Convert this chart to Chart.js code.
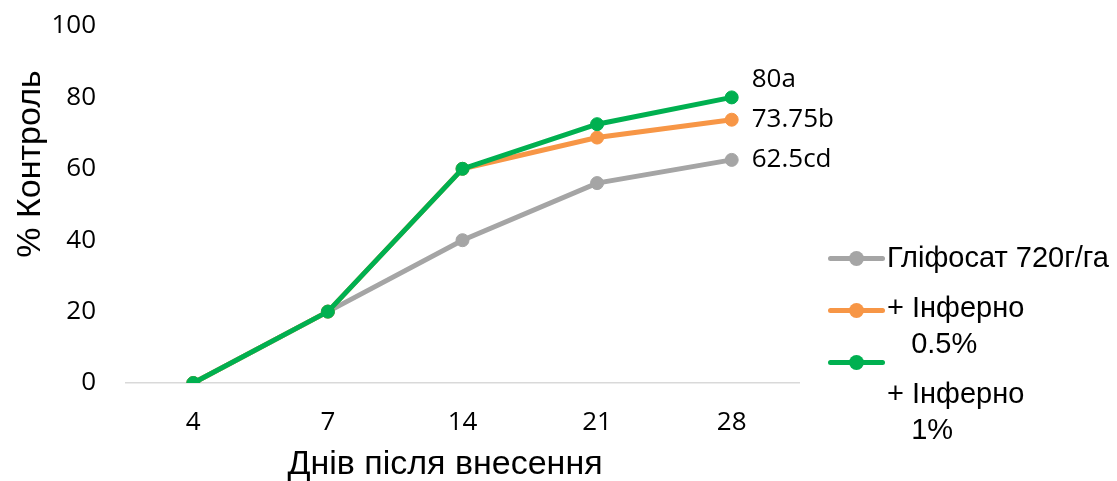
<!DOCTYPE html>
<html lang="uk">
<head>
    <meta charset="UTF-8">
    <title>% Контроль</title>
    <script src="https://cdn.jsdelivr.net/npm/chart.js"></script>
    <style>
        body { margin: 0; background: #fff; }
        .wrap { position: relative; width: 1117px; height: 481px; }
        .legend { position: absolute; left: 828px; top: 0; font-family: 'Liberation Sans', Arial, sans-serif; font-size: 29px; color: #000; }
        .item { position: absolute; left: 0; white-space: nowrap; }
        .swatch { position: absolute; left: 0; top: -2px; width: 57px; height: 5px; border-radius: 3px; }
        .swatch i { position: absolute; left: 21px; top: -5px; width: 15px; height: 15px; border-radius: 50%; }
        .txt { position: absolute; left: 59px; line-height: 36px; }
    </style>
</head>
<body>
<div class="wrap">
    <canvas id="c" width="1117" height="481"></canvas>
    <div class="legend">
        <div class="item" style="top:258px"><div class="swatch" style="background:#a5a5a5"><i style="background:#a5a5a5"></i></div><div class="txt" style="top:-19px">Гліфосат 720г/га</div></div>
        <div class="item" style="top:310px"><div class="swatch" style="background:#f79646"><i style="background:#f79646"></i></div><div class="txt" style="top:-21px">+ Інферно<br>&nbsp;&nbsp;&nbsp;0.5%</div></div>
        <div class="item" style="top:362px"><div class="swatch" style="background:#00b050"><i style="background:#00b050"></i></div><div class="txt" style="top:13px">+ Інферно<br>&nbsp;&nbsp;&nbsp;1%</div></div>
    </div>
</div>
<script>
const days = ['4', '7', '14', '21', '28'];
const glyphosate = [0, 20, 40, 56, 62.5];
const inferno05 = [0, 20, 60, 68.75, 73.75];
const inferno1 = [0, 20, 60, 72.5, 80];
const endLabels = ['62.5cd', '73.75b', '80a'];
const tickFont = '"Open Sans", Lato, sans-serif';
const titleFont = '34px "Liberation Sans", Arial, sans-serif';

// labels next to the last point of each line + axis titles drawn by hand
const extrasPlugin = {
    id: 'extras',
    afterDatasetsDraw(chart) {
        const ctx = chart.ctx;
        ctx.save();
        ctx.font = '26px ' + tickFont;
        ctx.fillStyle = '#000';
        ctx.textBaseline = 'middle';
        const offs = [0, 0, -18];
        chart.data.datasets.forEach((ds, i) => {
            const pts = chart.getDatasetMeta(i).data;
            const p = pts[pts.length - 1];
            ctx.fillText(endLabels[i], p.x + 20, p.y + offs[i]);
        });
        ctx.font = titleFont;
        ctx.textAlign = 'center';
        ctx.fillText('Днів після внесення', 445, 465);
        ctx.translate(31, 164);
        ctx.rotate(-Math.PI / 2);
        ctx.fillText('% Контроль', 0, 0);
        ctx.restore();
    }
};

new Chart(document.getElementById('c'), {
    type: 'line',
    data: {
        labels: days,
        datasets: [
            { label: 'Гліфосат 720г/га', data: glyphosate, borderColor: '#a5a5a5', backgroundColor: '#a5a5a5', order: 3 },
            { label: '+ Інферно 0.5%', data: inferno05, borderColor: '#f79646', backgroundColor: '#f79646', order: 2 },
            { label: '+ Інферно 1%', data: inferno1, borderColor: '#00b050', backgroundColor: '#00b050', order: 1 }
        ]
    },
    options: {
        responsive: false,
        animation: false,
        layout: { padding: { top: 26, right: 318, bottom: 0, left: 0 } },
        elements: {
            line: { borderWidth: 5, tension: 0 },
            point: { radius: 6.5, hoverRadius: 6.5 }
        },
        plugins: { legend: { display: false }, tooltip: { enabled: false } },
        scales: {
            x: {
                offset: true,
                afterFit: s => { s.height = 98; s.paddingLeft = 0; s.paddingRight = 0; },
                grid: { display: false, drawTicks: false },
                border: { color: '#d9d9d9', width: 1.5 },
                ticks: { color: '#000', font: { size: 26, family: tickFont }, padding: 24 }
            },
            y: {
                min: 0, max: 100,
                afterFit: s => { s.width = 126; s.paddingTop = 0; s.paddingBottom = 0; },
                grid: { display: false, drawTicks: false },
                border: { display: false },
                ticks: { stepSize: 20, color: '#000', font: { size: 26, family: tickFont }, padding: 30 }
            }
        }
    },
    plugins: [extrasPlugin]
});
</script>
</body>
</html>
